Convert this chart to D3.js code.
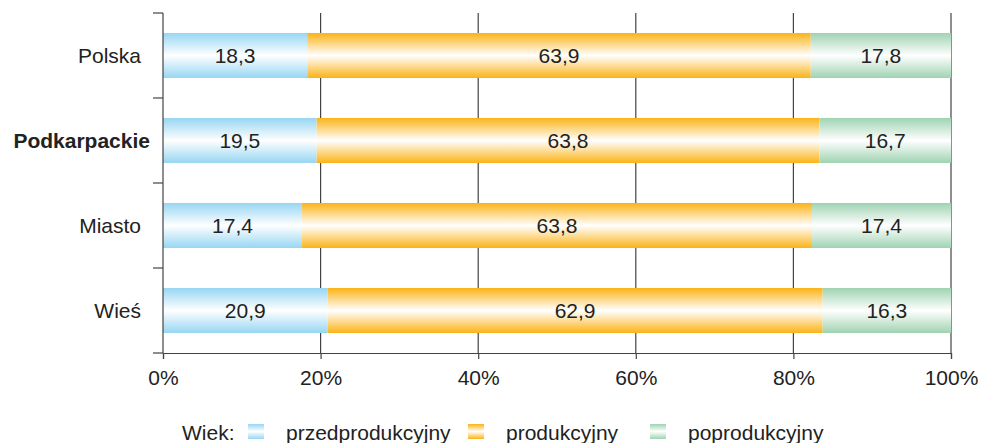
<!DOCTYPE html>
<html><head><meta charset="utf-8">
<script src="https://cdn.jsdelivr.net/npm/d3@7"></script>
<style>body{margin:0;background:#fff}svg{display:block;font-family:"Liberation Sans",Arial,sans-serif}</style>
</head><body><svg id="c" width="982" height="443"></svg>
<script>
const categories = ["Polska","Podkarpackie","Miasto","Wieś"];
const przed = [18.3,19.5,17.4,20.9];
const prod = [63.9,63.8,63.8,62.9];
const popr = [17.8,16.7,17.4,16.3];
const seriesNames = ["przedprodukcyjny","produkcyjny","poprodukcyjny"];
const tickValues = [0,20,40,60,80,100];
const legendTitle = "Wiek:";

(function(){
const colors = ["#97d6f2","#fbb317","#9fd3b2"];
const FS = 21;
const svg = d3.select("#c");
const L=163, R=951, T=13, B=353;
const x = d3.scaleLinear().domain([0,100]).range([L,R]);
const y = d3.scaleBand().domain(categories).range([T,B]).paddingInner(0.47).paddingOuter(0.235);

const defs = svg.append("defs");
colors.forEach((c,i)=>{
  const g = defs.append("linearGradient").attr("id","g"+i).attr("x1",0).attr("x2",0).attr("y1",0).attr("y2",1);
  g.append("stop").attr("offset","0%").attr("stop-color",c);
  g.append("stop").attr("offset","50%").attr("stop-color","#ffffff");
  g.append("stop").attr("offset","100%").attr("stop-color",c);
});

svg.append("g").selectAll("line").data(tickValues.slice(1)).join("line")
  .attr("x1",d=>x(d)).attr("x2",d=>x(d)).attr("y1",T).attr("y2",B)
  .attr("stroke","#444").attr("stroke-width",1.2);

const data = categories.map((c,i)=>({cat:c, vals:[przed[i],prod[i],popr[i]]}));
const rows = svg.append("g").selectAll("g").data(data).join("g");
rows.each(function(d){
  const total = d3.sum(d.vals);
  let acc=0;
  const g=d3.select(this);
  d.vals.forEach((v,i)=>{
    const x0=x(acc/total*100), x1=x((acc+v)/total*100);
    g.append("rect").attr("x",x0).attr("y",y(d.cat)).attr("width",x1-x0).attr("height",y.bandwidth())
      .attr("fill","url(#g"+i+")");
    g.append("text").attr("x",(x0+x1)/2).attr("y",y(d.cat)+y.bandwidth()/2).attr("dy","0.36em")
      .attr("text-anchor","middle").attr("font-size",FS).attr("fill","#222")
      .text(v.toFixed(1).replace(".",","));
    acc+=v;
  });
});

svg.append("line").attr("x1",L).attr("x2",L).attr("y1",T).attr("y2",B).attr("stroke","#444").attr("stroke-width",1.2);
const yTicks = d3.range(categories.length+1).map(i=>T+i*(B-T)/categories.length);
svg.append("g").selectAll("line").data(yTicks).join("line")
  .attr("x1",L-10).attr("x2",L).attr("y1",d=>d).attr("y2",d=>d).attr("stroke","#444").attr("stroke-width",1.2);
svg.append("g").selectAll("text").data(categories).join("text")
  .attr("x",(d,i)=>i===1?L-13:L-22).attr("y",d=>y(d)+y.bandwidth()/2).attr("dy","0.36em").attr("text-anchor","end")
  .attr("font-size",FS).attr("fill","#222").attr("font-weight",(d,i)=>i===1?"bold":"normal").text(d=>d);

const xAxis = d3.axisBottom(x).tickValues(tickValues).tickFormat(d=>d+"%").tickSize(6).tickPadding(11);
const xa = svg.append("g").attr("transform",`translate(0,${B})`).call(xAxis);
xa.select(".domain").attr("stroke","#444").attr("stroke-width",1.2);
xa.selectAll(".tick line").attr("stroke","#444").attr("stroke-width",1.2);
xa.selectAll("text").attr("font-size",FS).attr("fill","#222").attr("font-family","Liberation Sans, Arial, sans-serif");

const lg = svg.append("g");
lg.append("text").attr("x",182).attr("y",432).attr("dy","0.36em").attr("font-size",FS).attr("fill","#222").text(legendTitle);
const lx=[248,468,650];
seriesNames.forEach((s,i)=>{
  lg.append("rect").attr("x",lx[i]).attr("y",424).attr("width",16).attr("height",15).attr("fill","url(#g"+i+")");
  lg.append("text").attr("x",lx[i]+38).attr("y",432).attr("dy","0.36em").attr("font-size",FS).attr("fill","#222").text(s);
});
})();
</script></body></html>
